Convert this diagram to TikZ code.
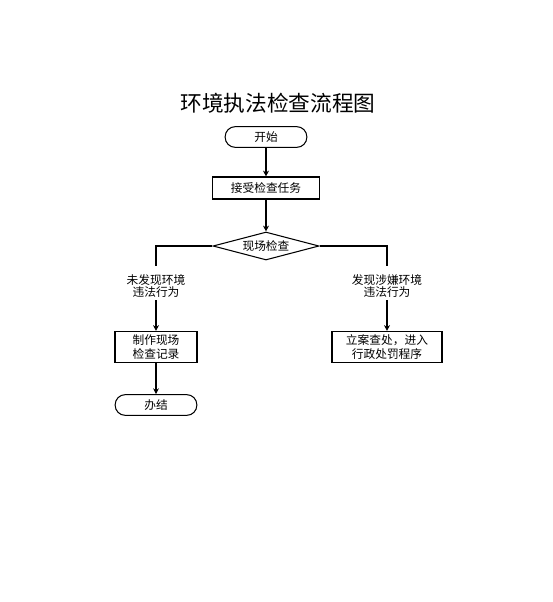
\documentclass[tikz,border=0pt]{standalone}
\usepackage{fontspec}
\newfontfamily\cjk{Noto Sans CJK SC}
\usetikzlibrary{shapes.geometric, arrows.meta, positioning}
\tikzset{
  terminal/.style={
    rectangle, rounded corners=0.3cm, draw, line width=0.9pt,
    minimum width=2.45cm, minimum height=0.62cm, inner sep=1pt,
    font=\cjk\fontsize{10}{11}\selectfont
  },
  process/.style={
    rectangle, draw, line width=0.9pt, inner sep=1pt,
    minimum height=0.66cm, align=center,
    font=\cjk\fontsize{10}{11.5}\selectfont
  },
  decision/.style={
    diamond, draw, line width=0.9pt, inner sep=0pt, aspect=3.8,
    minimum width=3.18cm, minimum height=0.84cm,
    font=\cjk\fontsize{10}{11}\selectfont
  },
  branch/.style={
    align=center, inner sep=1pt, font=\cjk\fontsize{10}{11}\selectfont
  },
  flow/.style={
    -{Stealth[length=5pt, width=5pt]}, line width=0.9pt
  }
}
\begin{document}
\begin{tikzpicture}[x=0.03cm, y=-0.03cm]
  \useasboundingbox (0,0) rectangle (553,602);

  % Title
  \node[font=\cjk\fontsize{18.5}{20}\selectfont] (title) at (278,103) {环境执法检查流程图};

  % Main flow
  \node[terminal] (start) at (266,137) {开始};
  \node[process, minimum width=3.21cm] (task) at (266,188) {接受检查任务};
  \node[decision] (check) at (266,246) {现场检查};

  % Branches
  \node[branch] (nolbl) at (156,286) {未发现环境\\违法行为};
  \node[branch] (yeslbl) at (387,286) {发现涉嫌环境\\违法行为};
  \node[process, minimum width=2.46cm, minimum height=0.93cm] (record) at (156,347) {制作现场\\检查记录};
  \node[process, minimum width=3.3cm, minimum height=0.93cm] (case) at (387,347) {立案查处，进入\\行政处罚程序};
  \node[terminal] (done) at (156,405) {办结};

  % Connectors
  \draw[flow] (start) -- (task);
  \draw[flow] (task) -- (check);
  \draw[line width=0.9pt] (check.west) -| ([yshift=6pt]nolbl.north);
  \draw[line width=0.9pt] (check.east) -| ([yshift=6pt]yeslbl.north);
  \draw[flow] ([yshift=-1pt]nolbl.south) -- (record);
  \draw[flow] ([yshift=-1pt]yeslbl.south) -- (case);
  \draw[flow] (record) -- (done);

\end{tikzpicture}
\end{document}
